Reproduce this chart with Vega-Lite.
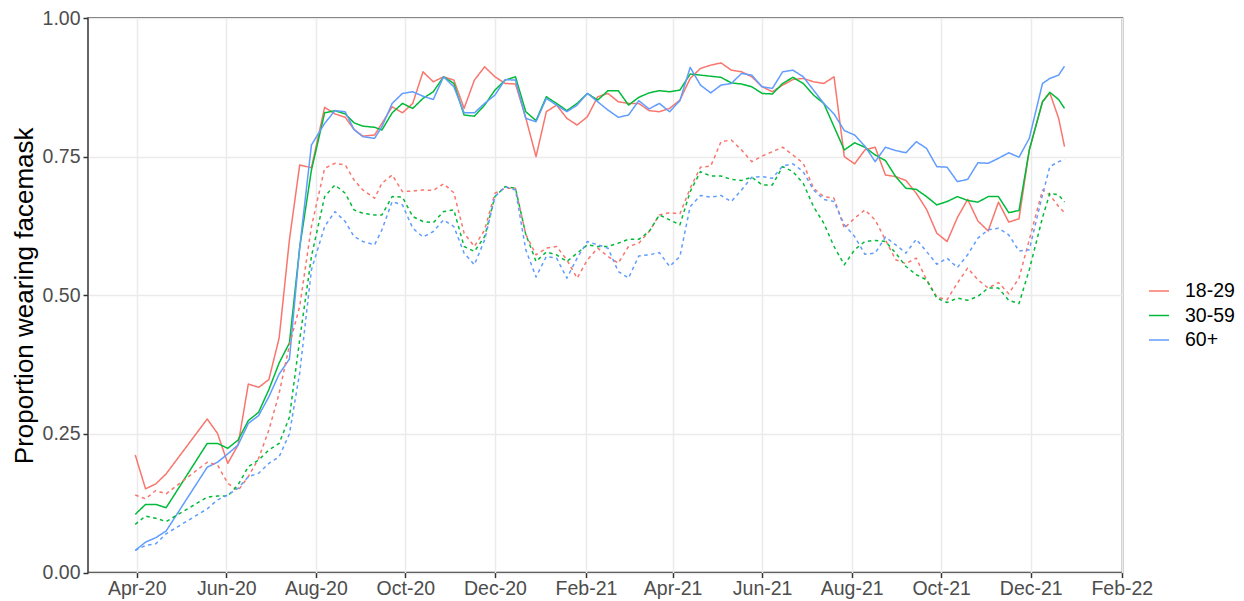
{
  "$schema": "https://vega.github.io/schema/vega-lite/v6.json",
  "width": 1034.5,
  "height": 554.6,
  "autosize": {"type": "none"},
  "padding": {"left": 88, "top": 18, "right": 121.5, "bottom": 28.4},
  "background": "white",
  "data": {
    "values": [
      {"date":"2020/03/31","age":"18-29","measure":"primary","value":0.212},
      {"date":"2020/04/07","age":"18-29","measure":"primary","value":0.151},
      {"date":"2020/04/14","age":"18-29","measure":"primary","value":0.160},
      {"date":"2020/04/21","age":"18-29","measure":"primary","value":0.178},
      {"date":"2020/05/19","age":"18-29","measure":"primary","value":0.277},
      {"date":"2020/05/26","age":"18-29","measure":"primary","value":0.251},
      {"date":"2020/06/02","age":"18-29","measure":"primary","value":0.197},
      {"date":"2020/06/09","age":"18-29","measure":"primary","value":0.230},
      {"date":"2020/06/16","age":"18-29","measure":"primary","value":0.340},
      {"date":"2020/06/23","age":"18-29","measure":"primary","value":0.334},
      {"date":"2020/06/30","age":"18-29","measure":"primary","value":0.348},
      {"date":"2020/07/07","age":"18-29","measure":"primary","value":0.423},
      {"date":"2020/07/14","age":"18-29","measure":"primary","value":0.600},
      {"date":"2020/07/21","age":"18-29","measure":"primary","value":0.735},
      {"date":"2020/07/29","age":"18-29","measure":"primary","value":0.730},
      {"date":"2020/08/07","age":"18-29","measure":"primary","value":0.839},
      {"date":"2020/08/14","age":"18-29","measure":"primary","value":0.827},
      {"date":"2020/08/21","age":"18-29","measure":"primary","value":0.821},
      {"date":"2020/08/27","age":"18-29","measure":"primary","value":0.799},
      {"date":"2020/09/02","age":"18-29","measure":"primary","value":0.787},
      {"date":"2020/09/10","age":"18-29","measure":"primary","value":0.789},
      {"date":"2020/09/15","age":"18-29","measure":"primary","value":0.810},
      {"date":"2020/09/22","age":"18-29","measure":"primary","value":0.840},
      {"date":"2020/09/29","age":"18-29","measure":"primary","value":0.829},
      {"date":"2020/10/06","age":"18-29","measure":"primary","value":0.846},
      {"date":"2020/10/13","age":"18-29","measure":"primary","value":0.903},
      {"date":"2020/10/20","age":"18-29","measure":"primary","value":0.885},
      {"date":"2020/10/27","age":"18-29","measure":"primary","value":0.894},
      {"date":"2020/11/03","age":"18-29","measure":"primary","value":0.888},
      {"date":"2020/11/10","age":"18-29","measure":"primary","value":0.837},
      {"date":"2020/11/17","age":"18-29","measure":"primary","value":0.888},
      {"date":"2020/11/24","age":"18-29","measure":"primary","value":0.912},
      {"date":"2020/12/01","age":"18-29","measure":"primary","value":0.894},
      {"date":"2020/12/08","age":"18-29","measure":"primary","value":0.882},
      {"date":"2020/12/15","age":"18-29","measure":"primary","value":0.881},
      {"date":"2020/12/22","age":"18-29","measure":"primary","value":0.820},
      {"date":"2020/12/29","age":"18-29","measure":"primary","value":0.750},
      {"date":"2021/01/05","age":"18-29","measure":"primary","value":0.831},
      {"date":"2021/01/12","age":"18-29","measure":"primary","value":0.843},
      {"date":"2021/01/19","age":"18-29","measure":"primary","value":0.819},
      {"date":"2021/01/26","age":"18-29","measure":"primary","value":0.807},
      {"date":"2021/02/02","age":"18-29","measure":"primary","value":0.822},
      {"date":"2021/02/09","age":"18-29","measure":"primary","value":0.858},
      {"date":"2021/02/16","age":"18-29","measure":"primary","value":0.864},
      {"date":"2021/02/23","age":"18-29","measure":"primary","value":0.849},
      {"date":"2021/03/02","age":"18-29","measure":"primary","value":0.846},
      {"date":"2021/03/09","age":"18-29","measure":"primary","value":0.846},
      {"date":"2021/03/16","age":"18-29","measure":"primary","value":0.833},
      {"date":"2021/03/23","age":"18-29","measure":"primary","value":0.831},
      {"date":"2021/03/30","age":"18-29","measure":"primary","value":0.837},
      {"date":"2021/04/06","age":"18-29","measure":"primary","value":0.852},
      {"date":"2021/04/13","age":"18-29","measure":"primary","value":0.891},
      {"date":"2021/04/20","age":"18-29","measure":"primary","value":0.909},
      {"date":"2021/04/27","age":"18-29","measure":"primary","value":0.915},
      {"date":"2021/05/04","age":"18-29","measure":"primary","value":0.919},
      {"date":"2021/05/11","age":"18-29","measure":"primary","value":0.906},
      {"date":"2021/05/18","age":"18-29","measure":"primary","value":0.903},
      {"date":"2021/05/25","age":"18-29","measure":"primary","value":0.894},
      {"date":"2021/06/01","age":"18-29","measure":"primary","value":0.876},
      {"date":"2021/06/08","age":"18-29","measure":"primary","value":0.867},
      {"date":"2021/06/15","age":"18-29","measure":"primary","value":0.879},
      {"date":"2021/06/22","age":"18-29","measure":"primary","value":0.889},
      {"date":"2021/06/29","age":"18-29","measure":"primary","value":0.891},
      {"date":"2021/07/06","age":"18-29","measure":"primary","value":0.885},
      {"date":"2021/07/13","age":"18-29","measure":"primary","value":0.882},
      {"date":"2021/07/20","age":"18-29","measure":"primary","value":0.894},
      {"date":"2021/07/27","age":"18-29","measure":"primary","value":0.750},
      {"date":"2021/08/03","age":"18-29","measure":"primary","value":0.737},
      {"date":"2021/08/10","age":"18-29","measure":"primary","value":0.762},
      {"date":"2021/08/17","age":"18-29","measure":"primary","value":0.767},
      {"date":"2021/08/24","age":"18-29","measure":"primary","value":0.717},
      {"date":"2021/08/31","age":"18-29","measure":"primary","value":0.714},
      {"date":"2021/09/07","age":"18-29","measure":"primary","value":0.707},
      {"date":"2021/09/14","age":"18-29","measure":"primary","value":0.684},
      {"date":"2021/09/21","age":"18-29","measure":"primary","value":0.655},
      {"date":"2021/09/28","age":"18-29","measure":"primary","value":0.612},
      {"date":"2021/10/05","age":"18-29","measure":"primary","value":0.597},
      {"date":"2021/10/12","age":"18-29","measure":"primary","value":0.640},
      {"date":"2021/10/19","age":"18-29","measure":"primary","value":0.673},
      {"date":"2021/10/26","age":"18-29","measure":"primary","value":0.634},
      {"date":"2021/11/02","age":"18-29","measure":"primary","value":0.616},
      {"date":"2021/11/09","age":"18-29","measure":"primary","value":0.668},
      {"date":"2021/11/16","age":"18-29","measure":"primary","value":0.632},
      {"date":"2021/11/23","age":"18-29","measure":"primary","value":0.638},
      {"date":"2021/11/30","age":"18-29","measure":"primary","value":0.762},
      {"date":"2021/12/09","age":"18-29","measure":"primary","value":0.849},
      {"date":"2021/12/14","age":"18-29","measure":"primary","value":0.865},
      {"date":"2021/12/20","age":"18-29","measure":"primary","value":0.819},
      {"date":"2021/12/24","age":"18-29","measure":"primary","value":0.768},

      {"date":"2020/03/31","age":"30-59","measure":"primary","value":0.105},
      {"date":"2020/04/07","age":"30-59","measure":"primary","value":0.123},
      {"date":"2020/04/14","age":"30-59","measure":"primary","value":0.123},
      {"date":"2020/04/21","age":"30-59","measure":"primary","value":0.117},
      {"date":"2020/05/19","age":"30-59","measure":"primary","value":0.233},
      {"date":"2020/05/26","age":"30-59","measure":"primary","value":0.233},
      {"date":"2020/06/02","age":"30-59","measure":"primary","value":0.224},
      {"date":"2020/06/09","age":"30-59","measure":"primary","value":0.239},
      {"date":"2020/06/16","age":"30-59","measure":"primary","value":0.274},
      {"date":"2020/06/23","age":"30-59","measure":"primary","value":0.289},
      {"date":"2020/06/30","age":"30-59","measure":"primary","value":0.330},
      {"date":"2020/07/07","age":"30-59","measure":"primary","value":0.378},
      {"date":"2020/07/14","age":"30-59","measure":"primary","value":0.414},
      {"date":"2020/07/21","age":"30-59","measure":"primary","value":0.586},
      {"date":"2020/07/29","age":"30-59","measure":"primary","value":0.726},
      {"date":"2020/08/07","age":"30-59","measure":"primary","value":0.829},
      {"date":"2020/08/14","age":"30-59","measure":"primary","value":0.833},
      {"date":"2020/08/21","age":"30-59","measure":"primary","value":0.827},
      {"date":"2020/08/27","age":"30-59","measure":"primary","value":0.811},
      {"date":"2020/09/02","age":"30-59","measure":"primary","value":0.805},
      {"date":"2020/09/10","age":"30-59","measure":"primary","value":0.803},
      {"date":"2020/09/15","age":"30-59","measure":"primary","value":0.798},
      {"date":"2020/09/22","age":"30-59","measure":"primary","value":0.829},
      {"date":"2020/09/29","age":"30-59","measure":"primary","value":0.846},
      {"date":"2020/10/06","age":"30-59","measure":"primary","value":0.837},
      {"date":"2020/10/13","age":"30-59","measure":"primary","value":0.855},
      {"date":"2020/10/20","age":"30-59","measure":"primary","value":0.867},
      {"date":"2020/10/27","age":"30-59","measure":"primary","value":0.894},
      {"date":"2020/11/03","age":"30-59","measure":"primary","value":0.882},
      {"date":"2020/11/10","age":"30-59","measure":"primary","value":0.825},
      {"date":"2020/11/17","age":"30-59","measure":"primary","value":0.823},
      {"date":"2020/11/24","age":"30-59","measure":"primary","value":0.843},
      {"date":"2020/12/01","age":"30-59","measure":"primary","value":0.870},
      {"date":"2020/12/08","age":"30-59","measure":"primary","value":0.888},
      {"date":"2020/12/15","age":"30-59","measure":"primary","value":0.894},
      {"date":"2020/12/22","age":"30-59","measure":"primary","value":0.831},
      {"date":"2020/12/29","age":"30-59","measure":"primary","value":0.815},
      {"date":"2021/01/05","age":"30-59","measure":"primary","value":0.858},
      {"date":"2021/01/12","age":"30-59","measure":"primary","value":0.846},
      {"date":"2021/01/19","age":"30-59","measure":"primary","value":0.833},
      {"date":"2021/01/26","age":"30-59","measure":"primary","value":0.846},
      {"date":"2021/02/02","age":"30-59","measure":"primary","value":0.864},
      {"date":"2021/02/09","age":"30-59","measure":"primary","value":0.852},
      {"date":"2021/02/16","age":"30-59","measure":"primary","value":0.869},
      {"date":"2021/02/23","age":"30-59","measure":"primary","value":0.869},
      {"date":"2021/03/02","age":"30-59","measure":"primary","value":0.843},
      {"date":"2021/03/09","age":"30-59","measure":"primary","value":0.857},
      {"date":"2021/03/16","age":"30-59","measure":"primary","value":0.865},
      {"date":"2021/03/23","age":"30-59","measure":"primary","value":0.869},
      {"date":"2021/03/30","age":"30-59","measure":"primary","value":0.867},
      {"date":"2021/04/06","age":"30-59","measure":"primary","value":0.870},
      {"date":"2021/04/13","age":"30-59","measure":"primary","value":0.899},
      {"date":"2021/04/20","age":"30-59","measure":"primary","value":0.897},
      {"date":"2021/04/27","age":"30-59","measure":"primary","value":0.895},
      {"date":"2021/05/04","age":"30-59","measure":"primary","value":0.893},
      {"date":"2021/05/11","age":"30-59","measure":"primary","value":0.883},
      {"date":"2021/05/18","age":"30-59","measure":"primary","value":0.881},
      {"date":"2021/05/25","age":"30-59","measure":"primary","value":0.876},
      {"date":"2021/06/01","age":"30-59","measure":"primary","value":0.864},
      {"date":"2021/06/08","age":"30-59","measure":"primary","value":0.863},
      {"date":"2021/06/15","age":"30-59","measure":"primary","value":0.882},
      {"date":"2021/06/22","age":"30-59","measure":"primary","value":0.893},
      {"date":"2021/06/29","age":"30-59","measure":"primary","value":0.882},
      {"date":"2021/07/06","age":"30-59","measure":"primary","value":0.861},
      {"date":"2021/07/13","age":"30-59","measure":"primary","value":0.846},
      {"date":"2021/07/20","age":"30-59","measure":"primary","value":0.804},
      {"date":"2021/07/27","age":"30-59","measure":"primary","value":0.762},
      {"date":"2021/08/03","age":"30-59","measure":"primary","value":0.775},
      {"date":"2021/08/10","age":"30-59","measure":"primary","value":0.767},
      {"date":"2021/08/17","age":"30-59","measure":"primary","value":0.753},
      {"date":"2021/08/24","age":"30-59","measure":"primary","value":0.743},
      {"date":"2021/08/31","age":"30-59","measure":"primary","value":0.714},
      {"date":"2021/09/07","age":"30-59","measure":"primary","value":0.693},
      {"date":"2021/09/14","age":"30-59","measure":"primary","value":0.691},
      {"date":"2021/09/21","age":"30-59","measure":"primary","value":0.678},
      {"date":"2021/09/28","age":"30-59","measure":"primary","value":0.663},
      {"date":"2021/10/05","age":"30-59","measure":"primary","value":0.669},
      {"date":"2021/10/12","age":"30-59","measure":"primary","value":0.678},
      {"date":"2021/10/19","age":"30-59","measure":"primary","value":0.671},
      {"date":"2021/10/26","age":"30-59","measure":"primary","value":0.668},
      {"date":"2021/11/02","age":"30-59","measure":"primary","value":0.678},
      {"date":"2021/11/09","age":"30-59","measure":"primary","value":0.678},
      {"date":"2021/11/16","age":"30-59","measure":"primary","value":0.649},
      {"date":"2021/11/23","age":"30-59","measure":"primary","value":0.653},
      {"date":"2021/11/30","age":"30-59","measure":"primary","value":0.762},
      {"date":"2021/12/09","age":"30-59","measure":"primary","value":0.849},
      {"date":"2021/12/14","age":"30-59","measure":"primary","value":0.866},
      {"date":"2021/12/20","age":"30-59","measure":"primary","value":0.853},
      {"date":"2021/12/24","age":"30-59","measure":"primary","value":0.837},

      {"date":"2020/03/31","age":"60+","measure":"primary","value":0.040},
      {"date":"2020/04/07","age":"60+","measure":"primary","value":0.055},
      {"date":"2020/04/14","age":"60+","measure":"primary","value":0.063},
      {"date":"2020/04/21","age":"60+","measure":"primary","value":0.075},
      {"date":"2020/05/19","age":"60+","measure":"primary","value":0.190},
      {"date":"2020/05/26","age":"60+","measure":"primary","value":0.199},
      {"date":"2020/06/02","age":"60+","measure":"primary","value":0.214},
      {"date":"2020/06/09","age":"60+","measure":"primary","value":0.230},
      {"date":"2020/06/16","age":"60+","measure":"primary","value":0.269},
      {"date":"2020/06/23","age":"60+","measure":"primary","value":0.283},
      {"date":"2020/06/30","age":"60+","measure":"primary","value":0.317},
      {"date":"2020/07/07","age":"60+","measure":"primary","value":0.358},
      {"date":"2020/07/14","age":"60+","measure":"primary","value":0.385},
      {"date":"2020/07/21","age":"60+","measure":"primary","value":0.586},
      {"date":"2020/07/29","age":"60+","measure":"primary","value":0.771},
      {"date":"2020/08/07","age":"60+","measure":"primary","value":0.810},
      {"date":"2020/08/14","age":"60+","measure":"primary","value":0.833},
      {"date":"2020/08/21","age":"60+","measure":"primary","value":0.831},
      {"date":"2020/08/27","age":"60+","measure":"primary","value":0.799},
      {"date":"2020/09/02","age":"60+","measure":"primary","value":0.786},
      {"date":"2020/09/10","age":"60+","measure":"primary","value":0.783},
      {"date":"2020/09/15","age":"60+","measure":"primary","value":0.804},
      {"date":"2020/09/22","age":"60+","measure":"primary","value":0.846},
      {"date":"2020/09/29","age":"60+","measure":"primary","value":0.864},
      {"date":"2020/10/06","age":"60+","measure":"primary","value":0.867},
      {"date":"2020/10/13","age":"60+","measure":"primary","value":0.859},
      {"date":"2020/10/20","age":"60+","measure":"primary","value":0.853},
      {"date":"2020/10/27","age":"60+","measure":"primary","value":0.894},
      {"date":"2020/11/03","age":"60+","measure":"primary","value":0.876},
      {"date":"2020/11/10","age":"60+","measure":"primary","value":0.829},
      {"date":"2020/11/17","age":"60+","measure":"primary","value":0.829},
      {"date":"2020/11/24","age":"60+","measure":"primary","value":0.846},
      {"date":"2020/12/01","age":"60+","measure":"primary","value":0.861},
      {"date":"2020/12/08","age":"60+","measure":"primary","value":0.889},
      {"date":"2020/12/15","age":"60+","measure":"primary","value":0.888},
      {"date":"2020/12/22","age":"60+","measure":"primary","value":0.819},
      {"date":"2020/12/29","age":"60+","measure":"primary","value":0.813},
      {"date":"2021/01/05","age":"60+","measure":"primary","value":0.855},
      {"date":"2021/01/12","age":"60+","measure":"primary","value":0.843},
      {"date":"2021/01/19","age":"60+","measure":"primary","value":0.831},
      {"date":"2021/01/26","age":"60+","measure":"primary","value":0.843},
      {"date":"2021/02/02","age":"60+","measure":"primary","value":0.864},
      {"date":"2021/02/09","age":"60+","measure":"primary","value":0.849},
      {"date":"2021/02/16","age":"60+","measure":"primary","value":0.834},
      {"date":"2021/02/23","age":"60+","measure":"primary","value":0.821},
      {"date":"2021/03/02","age":"60+","measure":"primary","value":0.825},
      {"date":"2021/03/09","age":"60+","measure":"primary","value":0.851},
      {"date":"2021/03/16","age":"60+","measure":"primary","value":0.836},
      {"date":"2021/03/23","age":"60+","measure":"primary","value":0.846},
      {"date":"2021/03/30","age":"60+","measure":"primary","value":0.831},
      {"date":"2021/04/06","age":"60+","measure":"primary","value":0.851},
      {"date":"2021/04/13","age":"60+","measure":"primary","value":0.911},
      {"date":"2021/04/20","age":"60+","measure":"primary","value":0.879},
      {"date":"2021/04/27","age":"60+","measure":"primary","value":0.865},
      {"date":"2021/05/04","age":"60+","measure":"primary","value":0.879},
      {"date":"2021/05/11","age":"60+","measure":"primary","value":0.882},
      {"date":"2021/05/18","age":"60+","measure":"primary","value":0.900},
      {"date":"2021/05/25","age":"60+","measure":"primary","value":0.897},
      {"date":"2021/06/01","age":"60+","measure":"primary","value":0.876},
      {"date":"2021/06/08","age":"60+","measure":"primary","value":0.873},
      {"date":"2021/06/15","age":"60+","measure":"primary","value":0.903},
      {"date":"2021/06/22","age":"60+","measure":"primary","value":0.906},
      {"date":"2021/06/29","age":"60+","measure":"primary","value":0.894},
      {"date":"2021/07/06","age":"60+","measure":"primary","value":0.870},
      {"date":"2021/07/13","age":"60+","measure":"primary","value":0.846},
      {"date":"2021/07/20","age":"60+","measure":"primary","value":0.827},
      {"date":"2021/07/27","age":"60+","measure":"primary","value":0.797},
      {"date":"2021/08/03","age":"60+","measure":"primary","value":0.789},
      {"date":"2021/08/10","age":"60+","measure":"primary","value":0.769},
      {"date":"2021/08/17","age":"60+","measure":"primary","value":0.741},
      {"date":"2021/08/24","age":"60+","measure":"primary","value":0.767},
      {"date":"2021/08/31","age":"60+","measure":"primary","value":0.761},
      {"date":"2021/09/07","age":"60+","measure":"primary","value":0.757},
      {"date":"2021/09/14","age":"60+","measure":"primary","value":0.777},
      {"date":"2021/09/21","age":"60+","measure":"primary","value":0.765},
      {"date":"2021/09/28","age":"60+","measure":"primary","value":0.732},
      {"date":"2021/10/05","age":"60+","measure":"primary","value":0.731},
      {"date":"2021/10/12","age":"60+","measure":"primary","value":0.705},
      {"date":"2021/10/19","age":"60+","measure":"primary","value":0.709},
      {"date":"2021/10/26","age":"60+","measure":"primary","value":0.739},
      {"date":"2021/11/02","age":"60+","measure":"primary","value":0.738},
      {"date":"2021/11/09","age":"60+","measure":"primary","value":0.747},
      {"date":"2021/11/16","age":"60+","measure":"primary","value":0.757},
      {"date":"2021/11/23","age":"60+","measure":"primary","value":0.749},
      {"date":"2021/11/30","age":"60+","measure":"primary","value":0.783},
      {"date":"2021/12/09","age":"60+","measure":"primary","value":0.882},
      {"date":"2021/12/14","age":"60+","measure":"primary","value":0.891},
      {"date":"2021/12/20","age":"60+","measure":"primary","value":0.897},
      {"date":"2021/12/24","age":"60+","measure":"primary","value":0.913},

      {"date":"2020/03/31","age":"18-29","measure":"secondary","value":0.140},
      {"date":"2020/04/07","age":"18-29","measure":"secondary","value":0.133},
      {"date":"2020/04/14","age":"18-29","measure":"secondary","value":0.148},
      {"date":"2020/04/21","age":"18-29","measure":"secondary","value":0.142},
      {"date":"2020/05/19","age":"18-29","measure":"secondary","value":0.199},
      {"date":"2020/05/26","age":"18-29","measure":"secondary","value":0.194},
      {"date":"2020/06/02","age":"18-29","measure":"secondary","value":0.161},
      {"date":"2020/06/09","age":"18-29","measure":"secondary","value":0.148},
      {"date":"2020/06/16","age":"18-29","measure":"secondary","value":0.173},
      {"date":"2020/06/23","age":"18-29","measure":"secondary","value":0.206},
      {"date":"2020/06/30","age":"18-29","measure":"secondary","value":0.257},
      {"date":"2020/07/07","age":"18-29","measure":"secondary","value":0.323},
      {"date":"2020/07/14","age":"18-29","measure":"secondary","value":0.410},
      {"date":"2020/07/21","age":"18-29","measure":"secondary","value":0.480},
      {"date":"2020/07/29","age":"18-29","measure":"secondary","value":0.624},
      {"date":"2020/08/07","age":"18-29","measure":"secondary","value":0.729},
      {"date":"2020/08/14","age":"18-29","measure":"secondary","value":0.738},
      {"date":"2020/08/21","age":"18-29","measure":"secondary","value":0.735},
      {"date":"2020/08/27","age":"18-29","measure":"secondary","value":0.708},
      {"date":"2020/09/02","age":"18-29","measure":"secondary","value":0.690},
      {"date":"2020/09/10","age":"18-29","measure":"secondary","value":0.675},
      {"date":"2020/09/15","age":"18-29","measure":"secondary","value":0.702},
      {"date":"2020/09/22","age":"18-29","measure":"secondary","value":0.717},
      {"date":"2020/09/29","age":"18-29","measure":"secondary","value":0.687},
      {"date":"2020/10/06","age":"18-29","measure":"secondary","value":0.688},
      {"date":"2020/10/13","age":"18-29","measure":"secondary","value":0.690},
      {"date":"2020/10/20","age":"18-29","measure":"secondary","value":0.689},
      {"date":"2020/10/27","age":"18-29","measure":"secondary","value":0.701},
      {"date":"2020/11/03","age":"18-29","measure":"secondary","value":0.685},
      {"date":"2020/11/10","age":"18-29","measure":"secondary","value":0.612},
      {"date":"2020/11/17","age":"18-29","measure":"secondary","value":0.588},
      {"date":"2020/11/24","age":"18-29","measure":"secondary","value":0.618},
      {"date":"2020/12/01","age":"18-29","measure":"secondary","value":0.684},
      {"date":"2020/12/08","age":"18-29","measure":"secondary","value":0.693},
      {"date":"2020/12/15","age":"18-29","measure":"secondary","value":0.693},
      {"date":"2020/12/22","age":"18-29","measure":"secondary","value":0.610},
      {"date":"2020/12/29","age":"18-29","measure":"secondary","value":0.573},
      {"date":"2021/01/05","age":"18-29","measure":"secondary","value":0.585},
      {"date":"2021/01/12","age":"18-29","measure":"secondary","value":0.588},
      {"date":"2021/01/19","age":"18-29","measure":"secondary","value":0.564},
      {"date":"2021/01/26","age":"18-29","measure":"secondary","value":0.531},
      {"date":"2021/02/02","age":"18-29","measure":"secondary","value":0.564},
      {"date":"2021/02/09","age":"18-29","measure":"secondary","value":0.585},
      {"date":"2021/02/16","age":"18-29","measure":"secondary","value":0.570},
      {"date":"2021/02/23","age":"18-29","measure":"secondary","value":0.558},
      {"date":"2021/03/02","age":"18-29","measure":"secondary","value":0.588},
      {"date":"2021/03/09","age":"18-29","measure":"secondary","value":0.594},
      {"date":"2021/03/16","age":"18-29","measure":"secondary","value":0.615},
      {"date":"2021/03/23","age":"18-29","measure":"secondary","value":0.645},
      {"date":"2021/03/30","age":"18-29","measure":"secondary","value":0.649},
      {"date":"2021/04/06","age":"18-29","measure":"secondary","value":0.647},
      {"date":"2021/04/13","age":"18-29","measure":"secondary","value":0.693},
      {"date":"2021/04/20","age":"18-29","measure":"secondary","value":0.731},
      {"date":"2021/04/27","age":"18-29","measure":"secondary","value":0.733},
      {"date":"2021/05/04","age":"18-29","measure":"secondary","value":0.777},
      {"date":"2021/05/11","age":"18-29","measure":"secondary","value":0.780},
      {"date":"2021/05/18","age":"18-29","measure":"secondary","value":0.762},
      {"date":"2021/05/25","age":"18-29","measure":"secondary","value":0.741},
      {"date":"2021/06/01","age":"18-29","measure":"secondary","value":0.751},
      {"date":"2021/06/08","age":"18-29","measure":"secondary","value":0.759},
      {"date":"2021/06/15","age":"18-29","measure":"secondary","value":0.767},
      {"date":"2021/06/22","age":"18-29","measure":"secondary","value":0.753},
      {"date":"2021/06/29","age":"18-29","measure":"secondary","value":0.738},
      {"date":"2021/07/06","age":"18-29","measure":"secondary","value":0.693},
      {"date":"2021/07/13","age":"18-29","measure":"secondary","value":0.678},
      {"date":"2021/07/20","age":"18-29","measure":"secondary","value":0.675},
      {"date":"2021/07/27","age":"18-29","measure":"secondary","value":0.621},
      {"date":"2021/08/03","age":"18-29","measure":"secondary","value":0.639},
      {"date":"2021/08/10","age":"18-29","measure":"secondary","value":0.654},
      {"date":"2021/08/17","age":"18-29","measure":"secondary","value":0.636},
      {"date":"2021/08/24","age":"18-29","measure":"secondary","value":0.600},
      {"date":"2021/08/31","age":"18-29","measure":"secondary","value":0.564},
      {"date":"2021/09/07","age":"18-29","measure":"secondary","value":0.557},
      {"date":"2021/09/14","age":"18-29","measure":"secondary","value":0.567},
      {"date":"2021/09/21","age":"18-29","measure":"secondary","value":0.528},
      {"date":"2021/09/28","age":"18-29","measure":"secondary","value":0.497},
      {"date":"2021/10/05","age":"18-29","measure":"secondary","value":0.492},
      {"date":"2021/10/12","age":"18-29","measure":"secondary","value":0.522},
      {"date":"2021/10/19","age":"18-29","measure":"secondary","value":0.549},
      {"date":"2021/10/26","age":"18-29","measure":"secondary","value":0.528},
      {"date":"2021/11/02","age":"18-29","measure":"secondary","value":0.513},
      {"date":"2021/11/09","age":"18-29","measure":"secondary","value":0.523},
      {"date":"2021/11/16","age":"18-29","measure":"secondary","value":0.503},
      {"date":"2021/11/23","age":"18-29","measure":"secondary","value":0.531},
      {"date":"2021/11/30","age":"18-29","measure":"secondary","value":0.600},
      {"date":"2021/12/09","age":"18-29","measure":"secondary","value":0.690},
      {"date":"2021/12/14","age":"18-29","measure":"secondary","value":0.681},
      {"date":"2021/12/20","age":"18-29","measure":"secondary","value":0.660},
      {"date":"2021/12/24","age":"18-29","measure":"secondary","value":0.649},

      {"date":"2020/03/31","age":"30-59","measure":"secondary","value":0.087},
      {"date":"2020/04/07","age":"30-59","measure":"secondary","value":0.102},
      {"date":"2020/04/14","age":"30-59","measure":"secondary","value":0.098},
      {"date":"2020/04/21","age":"30-59","measure":"secondary","value":0.092},
      {"date":"2020/05/19","age":"30-59","measure":"secondary","value":0.136},
      {"date":"2020/05/26","age":"30-59","measure":"secondary","value":0.138},
      {"date":"2020/06/02","age":"30-59","measure":"secondary","value":0.138},
      {"date":"2020/06/09","age":"30-59","measure":"secondary","value":0.158},
      {"date":"2020/06/16","age":"30-59","measure":"secondary","value":0.191},
      {"date":"2020/06/23","age":"30-59","measure":"secondary","value":0.203},
      {"date":"2020/06/30","age":"30-59","measure":"secondary","value":0.221},
      {"date":"2020/07/07","age":"30-59","measure":"secondary","value":0.233},
      {"date":"2020/07/14","age":"30-59","measure":"secondary","value":0.280},
      {"date":"2020/07/21","age":"30-59","measure":"secondary","value":0.420},
      {"date":"2020/07/29","age":"30-59","measure":"secondary","value":0.570},
      {"date":"2020/08/07","age":"30-59","measure":"secondary","value":0.678},
      {"date":"2020/08/14","age":"30-59","measure":"secondary","value":0.699},
      {"date":"2020/08/21","age":"30-59","measure":"secondary","value":0.684},
      {"date":"2020/08/27","age":"30-59","measure":"secondary","value":0.654},
      {"date":"2020/09/02","age":"30-59","measure":"secondary","value":0.648},
      {"date":"2020/09/10","age":"30-59","measure":"secondary","value":0.645},
      {"date":"2020/09/15","age":"30-59","measure":"secondary","value":0.645},
      {"date":"2020/09/22","age":"30-59","measure":"secondary","value":0.678},
      {"date":"2020/09/29","age":"30-59","measure":"secondary","value":0.677},
      {"date":"2020/10/06","age":"30-59","measure":"secondary","value":0.642},
      {"date":"2020/10/13","age":"30-59","measure":"secondary","value":0.633},
      {"date":"2020/10/20","age":"30-59","measure":"secondary","value":0.631},
      {"date":"2020/10/27","age":"30-59","measure":"secondary","value":0.651},
      {"date":"2020/11/03","age":"30-59","measure":"secondary","value":0.654},
      {"date":"2020/11/10","age":"30-59","measure":"secondary","value":0.588},
      {"date":"2020/11/17","age":"30-59","measure":"secondary","value":0.579},
      {"date":"2020/11/24","age":"30-59","measure":"secondary","value":0.606},
      {"date":"2020/12/01","age":"30-59","measure":"secondary","value":0.678},
      {"date":"2020/12/08","age":"30-59","measure":"secondary","value":0.696},
      {"date":"2020/12/15","age":"30-59","measure":"secondary","value":0.693},
      {"date":"2020/12/22","age":"30-59","measure":"secondary","value":0.610},
      {"date":"2020/12/29","age":"30-59","measure":"secondary","value":0.561},
      {"date":"2021/01/05","age":"30-59","measure":"secondary","value":0.578},
      {"date":"2021/01/12","age":"30-59","measure":"secondary","value":0.573},
      {"date":"2021/01/19","age":"30-59","measure":"secondary","value":0.561},
      {"date":"2021/01/26","age":"30-59","measure":"secondary","value":0.576},
      {"date":"2021/02/02","age":"30-59","measure":"secondary","value":0.591},
      {"date":"2021/02/09","age":"30-59","measure":"secondary","value":0.588},
      {"date":"2021/02/16","age":"30-59","measure":"secondary","value":0.588},
      {"date":"2021/02/23","age":"30-59","measure":"secondary","value":0.594},
      {"date":"2021/03/02","age":"30-59","measure":"secondary","value":0.601},
      {"date":"2021/03/09","age":"30-59","measure":"secondary","value":0.601},
      {"date":"2021/03/16","age":"30-59","measure":"secondary","value":0.615},
      {"date":"2021/03/23","age":"30-59","measure":"secondary","value":0.645},
      {"date":"2021/03/30","age":"30-59","measure":"secondary","value":0.636},
      {"date":"2021/04/06","age":"30-59","measure":"secondary","value":0.627},
      {"date":"2021/04/13","age":"30-59","measure":"secondary","value":0.687},
      {"date":"2021/04/20","age":"30-59","measure":"secondary","value":0.723},
      {"date":"2021/04/27","age":"30-59","measure":"secondary","value":0.715},
      {"date":"2021/05/04","age":"30-59","measure":"secondary","value":0.715},
      {"date":"2021/05/11","age":"30-59","measure":"secondary","value":0.709},
      {"date":"2021/05/18","age":"30-59","measure":"secondary","value":0.707},
      {"date":"2021/05/25","age":"30-59","measure":"secondary","value":0.713},
      {"date":"2021/06/01","age":"30-59","measure":"secondary","value":0.699},
      {"date":"2021/06/08","age":"30-59","measure":"secondary","value":0.699},
      {"date":"2021/06/15","age":"30-59","measure":"secondary","value":0.732},
      {"date":"2021/06/22","age":"30-59","measure":"secondary","value":0.723},
      {"date":"2021/06/29","age":"30-59","measure":"secondary","value":0.702},
      {"date":"2021/07/06","age":"30-59","measure":"secondary","value":0.660},
      {"date":"2021/07/13","age":"30-59","measure":"secondary","value":0.630},
      {"date":"2021/07/20","age":"30-59","measure":"secondary","value":0.588},
      {"date":"2021/07/27","age":"30-59","measure":"secondary","value":0.555},
      {"date":"2021/08/03","age":"30-59","measure":"secondary","value":0.582},
      {"date":"2021/08/10","age":"30-59","measure":"secondary","value":0.597},
      {"date":"2021/08/17","age":"30-59","measure":"secondary","value":0.599},
      {"date":"2021/08/24","age":"30-59","measure":"secondary","value":0.597},
      {"date":"2021/08/31","age":"30-59","measure":"secondary","value":0.576},
      {"date":"2021/09/07","age":"30-59","measure":"secondary","value":0.552},
      {"date":"2021/09/14","age":"30-59","measure":"secondary","value":0.537},
      {"date":"2021/09/21","age":"30-59","measure":"secondary","value":0.528},
      {"date":"2021/09/28","age":"30-59","measure":"secondary","value":0.495},
      {"date":"2021/10/05","age":"30-59","measure":"secondary","value":0.487},
      {"date":"2021/10/12","age":"30-59","measure":"secondary","value":0.495},
      {"date":"2021/10/19","age":"30-59","measure":"secondary","value":0.491},
      {"date":"2021/10/26","age":"30-59","measure":"secondary","value":0.498},
      {"date":"2021/11/02","age":"30-59","measure":"secondary","value":0.513},
      {"date":"2021/11/09","age":"30-59","measure":"secondary","value":0.513},
      {"date":"2021/11/16","age":"30-59","measure":"secondary","value":0.491},
      {"date":"2021/11/23","age":"30-59","measure":"secondary","value":0.485},
      {"date":"2021/11/30","age":"30-59","measure":"secondary","value":0.546},
      {"date":"2021/12/09","age":"30-59","measure":"secondary","value":0.640},
      {"date":"2021/12/14","age":"30-59","measure":"secondary","value":0.684},
      {"date":"2021/12/20","age":"30-59","measure":"secondary","value":0.681},
      {"date":"2021/12/24","age":"30-59","measure":"secondary","value":0.668},

      {"date":"2020/03/31","age":"60+","measure":"secondary","value":0.040},
      {"date":"2020/04/07","age":"60+","measure":"secondary","value":0.049},
      {"date":"2020/04/14","age":"60+","measure":"secondary","value":0.052},
      {"date":"2020/04/21","age":"60+","measure":"secondary","value":0.070},
      {"date":"2020/05/19","age":"60+","measure":"secondary","value":0.115},
      {"date":"2020/05/26","age":"60+","measure":"secondary","value":0.131},
      {"date":"2020/06/02","age":"60+","measure":"secondary","value":0.140},
      {"date":"2020/06/09","age":"60+","measure":"secondary","value":0.152},
      {"date":"2020/06/16","age":"60+","measure":"secondary","value":0.173},
      {"date":"2020/06/23","age":"60+","measure":"secondary","value":0.179},
      {"date":"2020/06/30","age":"60+","measure":"secondary","value":0.197},
      {"date":"2020/07/07","age":"60+","measure":"secondary","value":0.209},
      {"date":"2020/07/14","age":"60+","measure":"secondary","value":0.250},
      {"date":"2020/07/21","age":"60+","measure":"secondary","value":0.360},
      {"date":"2020/07/29","age":"60+","measure":"secondary","value":0.546},
      {"date":"2020/08/07","age":"60+","measure":"secondary","value":0.624},
      {"date":"2020/08/14","age":"60+","measure":"secondary","value":0.651},
      {"date":"2020/08/21","age":"60+","measure":"secondary","value":0.633},
      {"date":"2020/08/27","age":"60+","measure":"secondary","value":0.606},
      {"date":"2020/09/02","age":"60+","measure":"secondary","value":0.597},
      {"date":"2020/09/10","age":"60+","measure":"secondary","value":0.591},
      {"date":"2020/09/15","age":"60+","measure":"secondary","value":0.618},
      {"date":"2020/09/22","age":"60+","measure":"secondary","value":0.669},
      {"date":"2020/09/29","age":"60+","measure":"secondary","value":0.663},
      {"date":"2020/10/06","age":"60+","measure":"secondary","value":0.621},
      {"date":"2020/10/13","age":"60+","measure":"secondary","value":0.605},
      {"date":"2020/10/20","age":"60+","measure":"secondary","value":0.615},
      {"date":"2020/10/27","age":"60+","measure":"secondary","value":0.636},
      {"date":"2020/11/03","age":"60+","measure":"secondary","value":0.624},
      {"date":"2020/11/10","age":"60+","measure":"secondary","value":0.576},
      {"date":"2020/11/17","age":"60+","measure":"secondary","value":0.555},
      {"date":"2020/11/24","age":"60+","measure":"secondary","value":0.600},
      {"date":"2020/12/01","age":"60+","measure":"secondary","value":0.678},
      {"date":"2020/12/08","age":"60+","measure":"secondary","value":0.696},
      {"date":"2020/12/15","age":"60+","measure":"secondary","value":0.690},
      {"date":"2020/12/22","age":"60+","measure":"secondary","value":0.582},
      {"date":"2020/12/29","age":"60+","measure":"secondary","value":0.533},
      {"date":"2021/01/05","age":"60+","measure":"secondary","value":0.570},
      {"date":"2021/01/12","age":"60+","measure":"secondary","value":0.567},
      {"date":"2021/01/19","age":"60+","measure":"secondary","value":0.531},
      {"date":"2021/01/26","age":"60+","measure":"secondary","value":0.567},
      {"date":"2021/02/02","age":"60+","measure":"secondary","value":0.597},
      {"date":"2021/02/09","age":"60+","measure":"secondary","value":0.591},
      {"date":"2021/02/16","age":"60+","measure":"secondary","value":0.585},
      {"date":"2021/02/23","age":"60+","measure":"secondary","value":0.543},
      {"date":"2021/03/02","age":"60+","measure":"secondary","value":0.531},
      {"date":"2021/03/09","age":"60+","measure":"secondary","value":0.571},
      {"date":"2021/03/16","age":"60+","measure":"secondary","value":0.573},
      {"date":"2021/03/23","age":"60+","measure":"secondary","value":0.577},
      {"date":"2021/03/30","age":"60+","measure":"secondary","value":0.552},
      {"date":"2021/04/06","age":"60+","measure":"secondary","value":0.570},
      {"date":"2021/04/13","age":"60+","measure":"secondary","value":0.660},
      {"date":"2021/04/20","age":"60+","measure":"secondary","value":0.680},
      {"date":"2021/04/27","age":"60+","measure":"secondary","value":0.677},
      {"date":"2021/05/04","age":"60+","measure":"secondary","value":0.680},
      {"date":"2021/05/11","age":"60+","measure":"secondary","value":0.669},
      {"date":"2021/05/18","age":"60+","measure":"secondary","value":0.690},
      {"date":"2021/05/25","age":"60+","measure":"secondary","value":0.713},
      {"date":"2021/06/01","age":"60+","measure":"secondary","value":0.714},
      {"date":"2021/06/08","age":"60+","measure":"secondary","value":0.711},
      {"date":"2021/06/15","age":"60+","measure":"secondary","value":0.733},
      {"date":"2021/06/22","age":"60+","measure":"secondary","value":0.737},
      {"date":"2021/06/29","age":"60+","measure":"secondary","value":0.723},
      {"date":"2021/07/06","age":"60+","measure":"secondary","value":0.690},
      {"date":"2021/07/13","age":"60+","measure":"secondary","value":0.673},
      {"date":"2021/07/20","age":"60+","measure":"secondary","value":0.669},
      {"date":"2021/07/27","age":"60+","measure":"secondary","value":0.627},
      {"date":"2021/08/03","age":"60+","measure":"secondary","value":0.606},
      {"date":"2021/08/10","age":"60+","measure":"secondary","value":0.574},
      {"date":"2021/08/17","age":"60+","measure":"secondary","value":0.576},
      {"date":"2021/08/24","age":"60+","measure":"secondary","value":0.605},
      {"date":"2021/08/31","age":"60+","measure":"secondary","value":0.591},
      {"date":"2021/09/07","age":"60+","measure":"secondary","value":0.576},
      {"date":"2021/09/14","age":"60+","measure":"secondary","value":0.601},
      {"date":"2021/09/21","age":"60+","measure":"secondary","value":0.579},
      {"date":"2021/09/28","age":"60+","measure":"secondary","value":0.556},
      {"date":"2021/10/05","age":"60+","measure":"secondary","value":0.567},
      {"date":"2021/10/12","age":"60+","measure":"secondary","value":0.550},
      {"date":"2021/10/19","age":"60+","measure":"secondary","value":0.573},
      {"date":"2021/10/26","age":"60+","measure":"secondary","value":0.603},
      {"date":"2021/11/02","age":"60+","measure":"secondary","value":0.618},
      {"date":"2021/11/09","age":"60+","measure":"secondary","value":0.621},
      {"date":"2021/11/16","age":"60+","measure":"secondary","value":0.609},
      {"date":"2021/11/23","age":"60+","measure":"secondary","value":0.580},
      {"date":"2021/11/30","age":"60+","measure":"secondary","value":0.582},
      {"date":"2021/12/09","age":"60+","measure":"secondary","value":0.681},
      {"date":"2021/12/14","age":"60+","measure":"secondary","value":0.732},
      {"date":"2021/12/20","age":"60+","measure":"secondary","value":0.741},
      {"date":"2021/12/24","age":"60+","measure":"secondary","value":0.745}
    ]
  },
  "mark": {"type": "line", "strokeWidth": 1.5, "strokeJoin": "round", "clip": true},
  "encoding": {
    "x": {
      "field": "date",
      "type": "temporal",
      "scale": {
        "domain": [
          {"year": 2020, "month": 2, "date": 27, "hours": 19},
          {"year": 2022, "month": 2, "date": 1, "hours": 12}
        ]
      },
      "axis": {
        "title": null,
        "format": "%b-%y",
        "values": [
          {"year": 2020, "month": 4, "date": 1},
          {"year": 2020, "month": 6, "date": 1},
          {"year": 2020, "month": 8, "date": 1},
          {"year": 2020, "month": 10, "date": 1},
          {"year": 2020, "month": 12, "date": 1},
          {"year": 2021, "month": 2, "date": 1},
          {"year": 2021, "month": 4, "date": 1},
          {"year": 2021, "month": 6, "date": 1},
          {"year": 2021, "month": 8, "date": 1},
          {"year": 2021, "month": 10, "date": 1},
          {"year": 2021, "month": 12, "date": 1},
          {"year": 2022, "month": 2, "date": 1}
        ],
        "labelFlush": false,
        "labelOverlap": false,
        "labelPadding": 2
      }
    },
    "y": {
      "field": "value",
      "type": "quantitative",
      "scale": {"domain": [0, 1], "nice": false, "zero": false},
      "axis": {
        "title": "Proportion wearing facemask",
        "values": [0, 0.25, 0.5, 0.75, 1],
        "format": ".2f",
        "labelPadding": 3,
        "titleX": -51,
        "titleY": 277.3,
        "titleAngle": -90,
        "titleAlign": "center",
        "titleBaseline": "bottom"
      }
    },
    "color": {
      "field": "age",
      "type": "nominal",
      "scale": {
        "domain": ["18-29", "30-59", "60+"],
        "range": ["#F8766D", "#00BA38", "#619CFF"]
      },
      "legend": {
        "title": null,
        "orient": "none",
        "legendX": 1060,
        "legendY": 262,
        "symbolType": "stroke",
        "symbolSize": 400,
        "symbolStrokeWidth": 1.5,
        "labelFontSize": 19.5,
        "labelFont": "Liberation Sans",
        "labelColor": "#000000",
        "labelOffset": 15,
        "rowPadding": 3.5,
        "padding": 0
      }
    },
    "strokeDash": {
      "field": "measure",
      "type": "nominal",
      "scale": {"domain": ["primary", "secondary"], "range": [[1, 0], [3.5, 3.5]]},
      "legend": null
    }
  },
  "config": {
    "font": "Liberation Sans",
    "view": {"stroke": "#333333", "strokeWidth": 1.5},
    "axis": {
      "domain": false,
      "grid": true,
      "gridColor": "#EBEBEB",
      "gridWidth": 1.5,
      "ticks": true,
      "tickColor": "#333333",
      "tickWidth": 1.5,
      "tickSize": 5,
      "labelColor": "#4D4D4D",
      "labelFont": "Liberation Sans",
      "labelFontSize": 19.5,
      "titleFont": "Liberation Sans",
      "titleFontSize": 26,
      "titleFontWeight": "normal",
      "titleColor": "#000000"
    }
  }
}
